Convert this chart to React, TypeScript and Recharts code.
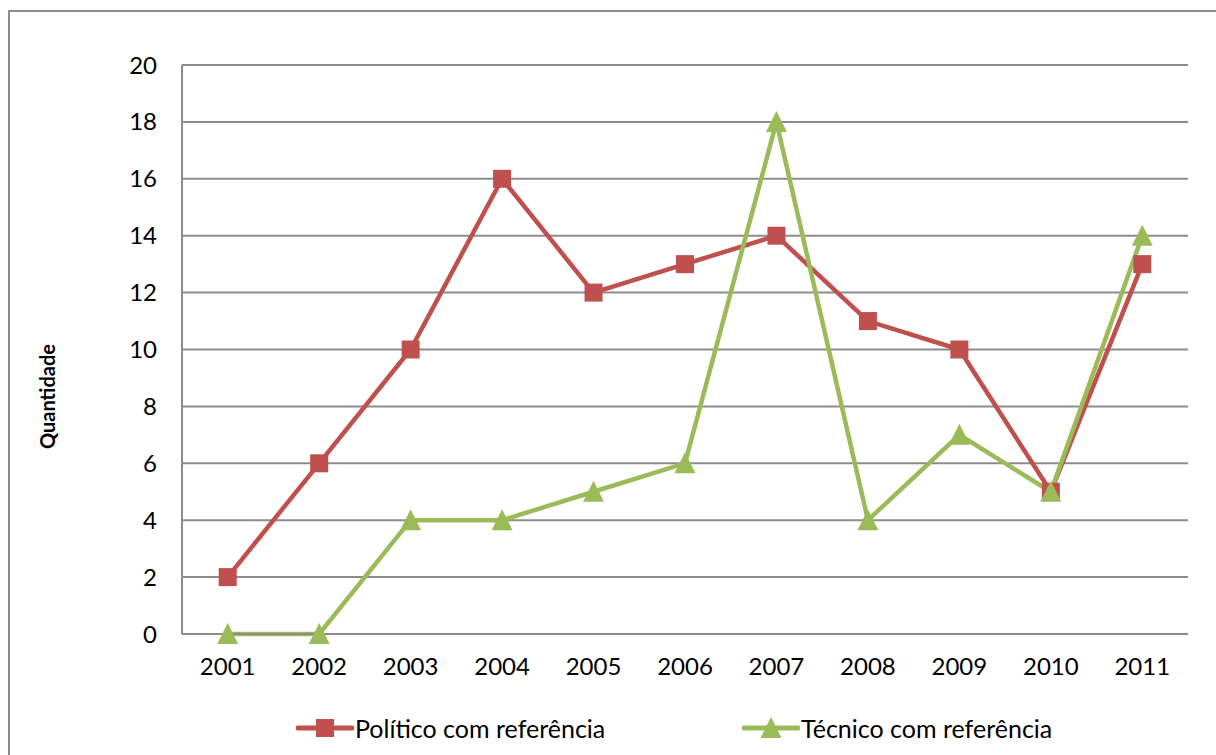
import React from 'react';
import { LineChart, Line, XAxis, YAxis, CartesianGrid, Label } from 'recharts';

const years = ['2001', '2002', '2003', '2004', '2005', '2006', '2007', '2008', '2009', '2010', '2011'];
const politico = [2, 6, 10, 16, 12, 13, 14, 11, 10, 5, 13];
const tecnico = [0, 0, 4, 4, 5, 6, 18, 4, 7, 5, 14];
const yTicks = [0, 2, 4, 6, 8, 10, 12, 14, 16, 18, 20];

const RED = '#C0504D';
const GREEN = '#9BBB59';
const GRID = '#8C8C8C';
const FONT = 'Lato, "Open Sans", sans-serif';

const data = years.map((year, i) => ({ year, politico: politico[i], tecnico: tecnico[i] }));

const SquareDot = (props: any) => {
  const { cx, cy, index } = props;
  if (cx == null || cy == null) return null;
  return <rect key={`sq-${index}`} x={cx - 9} y={cy - 9} width={18} height={18} fill={RED} />;
};

const TriangleDot = (props: any) => {
  const { cx, cy, index } = props;
  if (cx == null || cy == null) return null;
  return (
    <polygon
      key={`tr-${index}`}
      points={`${cx},${cy - 11} ${cx + 10.5},${cy + 10} ${cx - 10.5},${cy + 10}`}
      fill={GREEN}
    />
  );
};

const YLabel = (props: any) => {
  const { viewBox } = props;
  const x = viewBox.x - 75;
  const y = viewBox.y + viewBox.height / 2 + 47;
  return (
    <text
      x={x}
      y={y}
      transform={`rotate(-90, ${x}, ${y})`}
      textAnchor="middle"
      dominantBaseline="central"
      style={{ fontFamily: FONT, fontSize: 20, fontWeight: 700, fill: '#000' }}
    >
      Quantidade
    </text>
  );
};

const LegendIcon = ({ color, shape }: { color: string; shape: 'square' | 'triangle' }) => (
  <svg width={58} height={24} style={{ display: 'block' }}>
    <line x1={2} y1={12} x2={56} y2={12} stroke={color} strokeWidth={5} strokeLinecap="round" />
    {shape === 'square' ? (
      <rect x={20} y={3} width={18} height={18} fill={color} />
    ) : (
      <polygon points="29,1 39.5,22 18.5,22" fill={color} />
    )}
  </svg>
);

const ChartLegend = () => (
  <div style={{ position: 'absolute', left: 0, top: 713, width: 1216, height: 30, fontFamily: FONT, fontSize: 25, color: '#000' }}>
    <div style={{ position: 'absolute', left: 296, top: 0, display: 'flex', alignItems: 'center', whiteSpace: 'nowrap' }}>
      <LegendIcon color={RED} shape="square" />
      <span style={{ marginLeft: 1 }}>Político com referência</span>
    </div>
    <div style={{ position: 'absolute', left: 742, top: 0, display: 'flex', alignItems: 'center', whiteSpace: 'nowrap' }}>
      <LegendIcon color={GREEN} shape="triangle" />
      <span style={{ marginLeft: 1 }}>Técnico com referência</span>
    </div>
  </div>
);

export default function App() {
  return (
    <div style={{ position: 'absolute', left: 0, top: 0, width: 1216, height: 755, overflow: 'hidden', background: '#fff' }}>
      <div
        style={{
          position: 'absolute',
          left: 8,
          top: 10,
          width: 1230,
          height: 780,
          border: `2px solid ${GRID}`,
          boxSizing: 'border-box',
        }}
      />
      <div style={{ position: 'absolute', left: 0, top: 0 }}>
        <LineChart width={1216} height={755} data={data} margin={{ top: 65, right: 28, bottom: 91, left: 122 }}>
          <CartesianGrid vertical={false} stroke={GRID} strokeWidth={2} />
          <XAxis
            dataKey="year"
            height={30}
            padding={{ left: 45.7, right: 45.7 }}
            tickLine={false}
            axisLine={{ stroke: GRID, strokeWidth: 2 }}
            tick={{ fill: '#000', fontSize: 24, fontFamily: FONT }}
            tickMargin={18}
            interval={0}
          />
          <YAxis
            width={60}
            domain={[0, 20]}
            ticks={yTicks}
            tickLine={false}
            axisLine={{ stroke: GRID, strokeWidth: 2 }}
            tick={{ fill: '#000', fontSize: 24, fontFamily: FONT }}
            tickMargin={19}
            interval={0}
          >
            <Label content={<YLabel />} />
          </YAxis>
          <Line
            type="linear"
            dataKey="politico"
            name="Político com referência"
            stroke={RED}
            strokeWidth={4.5}
            dot={SquareDot}
            activeDot={false}
            isAnimationActive={false}
          />
          <Line
            type="linear"
            dataKey="tecnico"
            name="Técnico com referência"
            stroke={GREEN}
            strokeWidth={4.5}
            dot={TriangleDot}
            activeDot={false}
            isAnimationActive={false}
          />
        </LineChart>
      </div>
      <ChartLegend />
    </div>
  );
}
